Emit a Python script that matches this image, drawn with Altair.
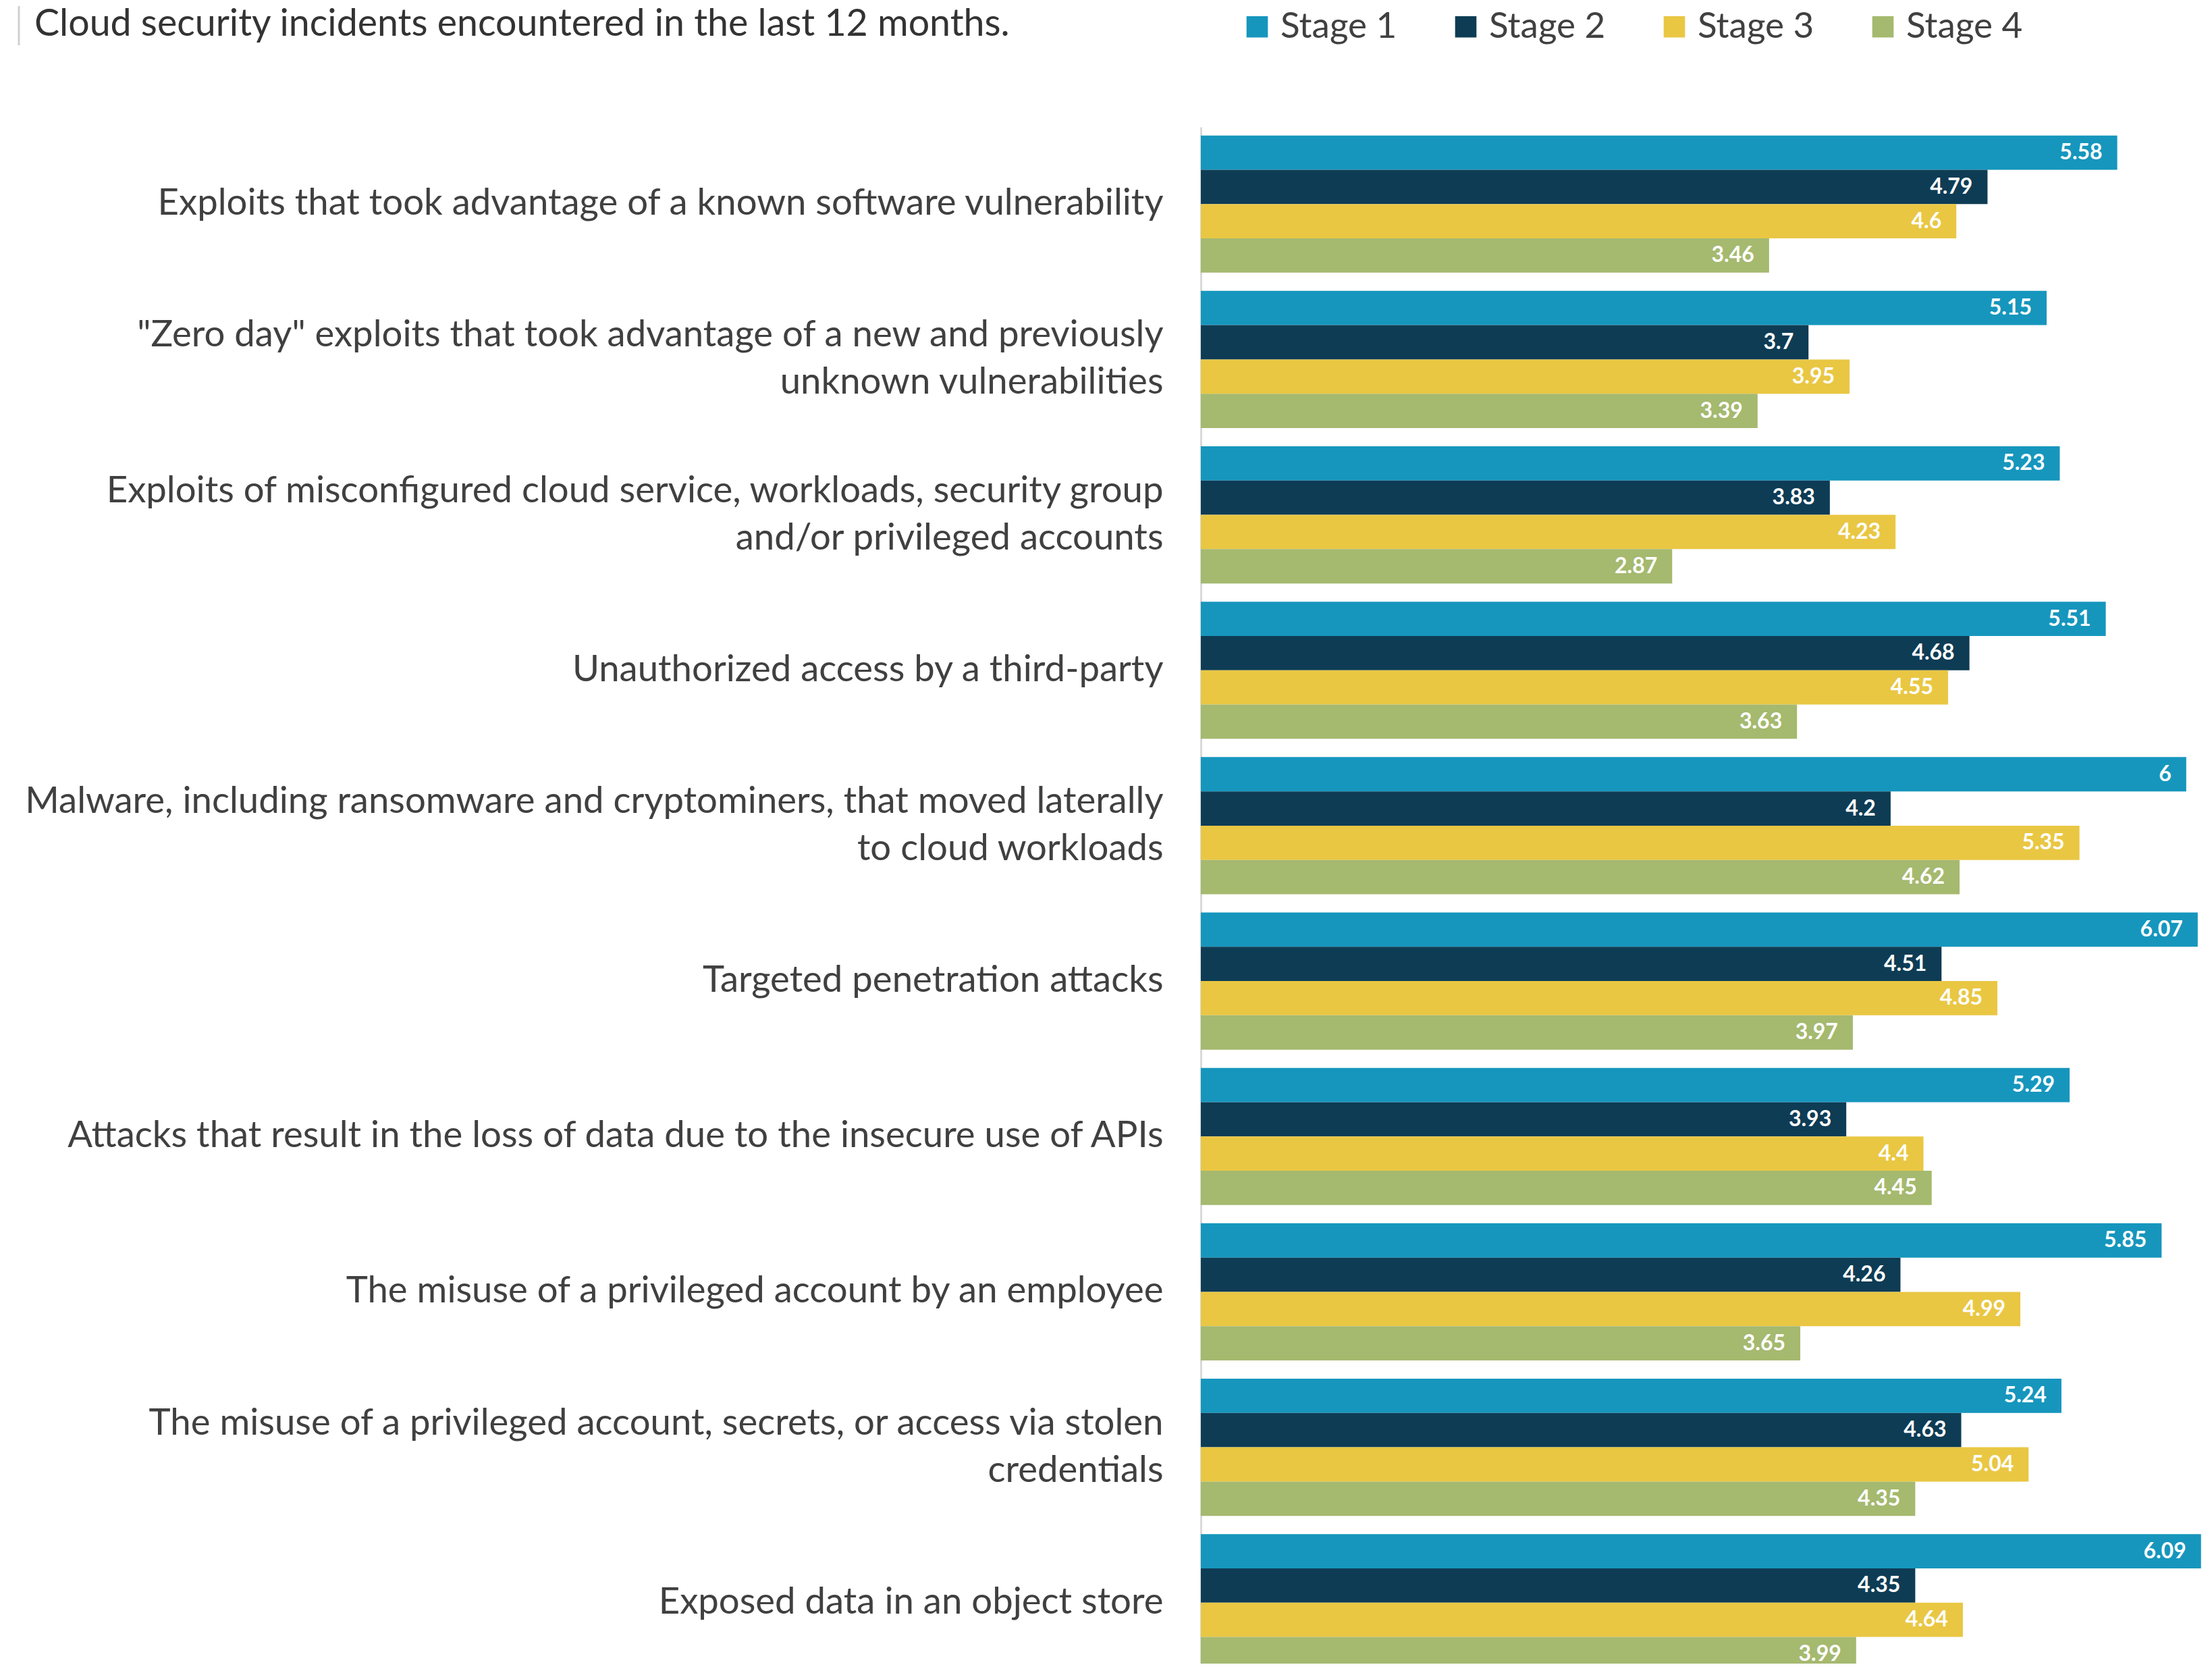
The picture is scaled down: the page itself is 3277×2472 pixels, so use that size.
import altair as alt
import pandas as pd

TITLE = "Cloud security incidents encountered in the last 12 months."

categories = [
    "Exploits that took advantage of a known software vulnerability",
    "\"Zero day\" exploits that took advantage of a new and previously\nunknown vulnerabilities",
    "Exploits of misconfigured cloud service, workloads, security group\nand/or privileged accounts",
    "Unauthorized access by a third-party",
    "Malware, including ransomware and cryptominers, that moved laterally\nto cloud workloads",
    "Targeted penetration attacks",
    "Attacks that result in the loss of data due to the insecure use of APIs",
    "The misuse of a privileged account by an employee",
    "The misuse of a privileged account, secrets, or access via stolen\ncredentials",
    "Exposed data in an object store",
]
stages = ["Stage 1", "Stage 2", "Stage 3", "Stage 4"]
stage1 = [5.58, 5.15, 5.23, 5.51, 6, 6.07, 5.29, 5.85, 5.24, 6.09]
stage2 = [4.79, 3.7, 3.83, 4.68, 4.2, 4.51, 3.93, 4.26, 4.63, 4.35]
stage3 = [4.6, 3.95, 4.23, 4.55, 5.35, 4.85, 4.4, 4.99, 5.04, 4.64]
stage4 = [3.46, 3.39, 2.87, 3.63, 4.62, 3.97, 4.45, 3.65, 4.35, 3.99]
colors = ["#1696bd", "#0e3c55", "#e9c743", "#a5b96f"]

rows = []
for series, stage in zip([stage1, stage2, stage3, stage4], stages):
    for cat, v in zip(categories, series):
        rows.append({"category": cat, "stage": stage, "value": v, "label": f"{v:g}"})
df = pd.DataFrame(rows)

y_enc = alt.Y(
    "category:N",
    sort=categories,
    title=None,
    scale=alt.Scale(range=[0, 2300], paddingInner=0.1174, paddingOuter=0.055),
    axis=alt.Axis(
        labelExpr="split(datum.label, '\\n')",
        labelFont="Lato",
        labelFontSize=54.5,
        labelColor="#404040",
        labelLineHeight=70,
        labelPadding=56,
        labelLimit=3000,
        labelAlign="right",
        labelBaseline="middle",
        labelOffset={"condition": {"test": "indexof(datum.value, '\\n') >= 0", "value": -35}, "value": 0},
        ticks=False,
        domainColor="#d9d9d9",
        domainWidth=3,
        grid=False,
    ),
)
x_enc = alt.X("value:Q", scale=alt.Scale(domain=[0, 6.124], nice=False), axis=None)
yoff = alt.YOffset("stage:N", sort=stages, scale=alt.Scale(paddingInner=0, paddingOuter=0))

base = alt.Chart(df)

bars = base.mark_bar().encode(
    y=y_enc,
    x=x_enc,
    yOffset=yoff,
    color=alt.Color(
        "stage:N",
        sort=stages,
        scale=alt.Scale(domain=stages, range=colors),
        legend=alt.Legend(
            title=None,
            orient="none",
            direction="horizontal",
            legendX=57,
            legendY=-175,
            symbolType="square",
            symbolSize=1000,
            symbolStrokeWidth=0,
            symbolOpacity=1,
            labelFont="Lato",
            labelFontSize=53,
            labelColor="#404040",
            labelOffset=8,
            labelLimit=1000,
            columnPadding=75,
        ),
    ),
)

labels = base.mark_text(
    align="right", baseline="middle", dx=-22, color="white",
    fontWeight="bold", fontSize=32, font="Lato",
).encode(
    y=alt.Y("category:N", sort=categories),
    x="value:Q",
    yOffset=yoff,
    text="label:N",
)

title_df = pd.DataFrame({"t": [TITLE]})
title = alt.Chart(title_df).mark_text(
    align="left", baseline="alphabetic", fontSize=55.5, font="Lato", color="#333333"
).encode(x=alt.value(-1728), y=alt.value(-135), text="t:N")

bar_mark = alt.Chart(title_df).mark_rule(color="#d0d0d0", strokeWidth=3).encode(
    x=alt.value(-1751), y=alt.value(-179), y2=alt.value(-121)
)

chart = alt.layer(bars, labels, title, bar_mark).properties(
    width=1490,
    height=2276,
    padding={"left": 1771, "top": 180, "right": 0, "bottom": 0},
    autosize=alt.AutoSizeParams(type="none"),
    background="white",
).configure_view(stroke=None)

chart.save("out.html", embed_options={"renderer": "svg", "actions": False})
